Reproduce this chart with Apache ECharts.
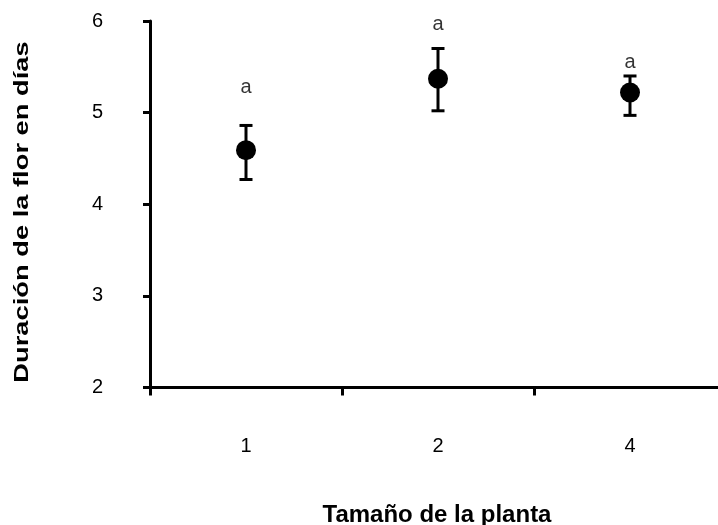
<!DOCTYPE html>
<html>
<head>
<meta charset="utf-8">
<script src="https://cdn.jsdelivr.net/npm/echarts@6/dist/echarts.min.js"></script>
<style>
  html, body { margin: 0; padding: 0; background: #fff; }
  #chart { width: 718px; height: 525px; }
</style>
</head>
<body>
<div id="chart"></div>
<script>
// Flower duration (days) by plant size class: mean with error bar limits
const sizes = ['1', '2', '4'];
const means = [4.59, 5.37, 5.22];
const upper = [4.86, 5.70, 5.40];
const lower = [4.27, 5.02, 4.97];
const letters = ['a', 'a', 'a'];
const letterHeights = [5.27, 5.96, 5.55];
const yTicks = [2, 3, 4, 5, 6];

const FONT = '"Liberation Sans", Arial, sans-serif';

const chart = echarts.init(document.getElementById('chart'), null, { renderer: 'canvas' });

chart.setOption({
  animation: false,
  backgroundColor: '#ffffff',
  grid: { left: 150, width: 576, top: 21, bottom: 137.5, containLabel: false, outerBoundsMode: 'none' },
  graphic: [
    {
      type: 'text',
      x: 437, y: 515,
      style: {
        text: 'Tamaño de la planta',
        fontFamily: FONT, fontSize: 24, fontWeight: 'bold', fill: '#000',
        align: 'center', verticalAlign: 'middle'
      }
    },
    {
      type: 'text',
      x: 22, y: 212,
      rotation: Math.PI / 2,
      scaleX: 1.3,
      style: {
        text: 'Duración de la flor en días',
        fontFamily: FONT, fontSize: 21, fontWeight: 'bold', fill: '#000',
        align: 'center', verticalAlign: 'middle'
      }
    }
  ],
  xAxis: {
    type: 'category',
    data: sizes,
    boundaryGap: true,
    axisLine: { lineStyle: { color: '#000', width: 3 } },
    axisTick: { show: true, inside: false, length: 8, lineStyle: { color: '#000', width: 3 } },
    axisLabel: { fontFamily: FONT, fontSize: 20, color: '#000', margin: 49 },
    splitLine: { show: false }
  },
  yAxis: {
    type: 'value',
    min: yTicks[0],
    max: yTicks[yTicks.length - 1],
    interval: 1,
    axisLine: { show: true, lineStyle: { color: '#000', width: 3 } },
    axisTick: { show: true, inside: false, length: 7, lineStyle: { color: '#000', width: 3 } },
    axisLabel: { fontFamily: FONT, fontSize: 20, color: '#000', margin: 47 },
    splitLine: { show: false }
  },
  series: [
    {
      // vertical error bars with caps
      type: 'custom',
      z: 2,
      data: sizes.map((s, i) => [i, lower[i], upper[i]]),
      renderItem: function (params, api) {
        const x = api.value(0);
        const lo = api.coord([x, api.value(1)]);
        const hi = api.coord([x, api.value(2)]);
        const half = 6.5;
        const style = { stroke: '#000', lineWidth: 3, fill: null };
        return {
          type: 'group',
          children: [
            { type: 'line', shape: { x1: lo[0], y1: lo[1], x2: hi[0], y2: hi[1] }, style: style },
            { type: 'line', shape: { x1: hi[0] - half, y1: hi[1], x2: hi[0] + half, y2: hi[1] }, style: style },
            { type: 'line', shape: { x1: lo[0] - half, y1: lo[1], x2: lo[0] + half, y2: lo[1] }, style: style }
          ]
        };
      }
    },
    {
      // group means
      type: 'scatter',
      z: 3,
      symbol: 'circle',
      symbolSize: 20,
      itemStyle: { color: '#000', opacity: 1 },
      data: means
    },
    {
      // significance letters
      type: 'scatter',
      z: 4,
      symbolSize: 0,
      silent: true,
      data: letterHeights,
      label: {
        show: true,
        position: 'inside',
        fontFamily: FONT,
        fontSize: 20,
        color: '#000',
        formatter: function (p) { return letters[p.dataIndex]; }
      }
    }
  ]
});
</script>
</body>
</html>
